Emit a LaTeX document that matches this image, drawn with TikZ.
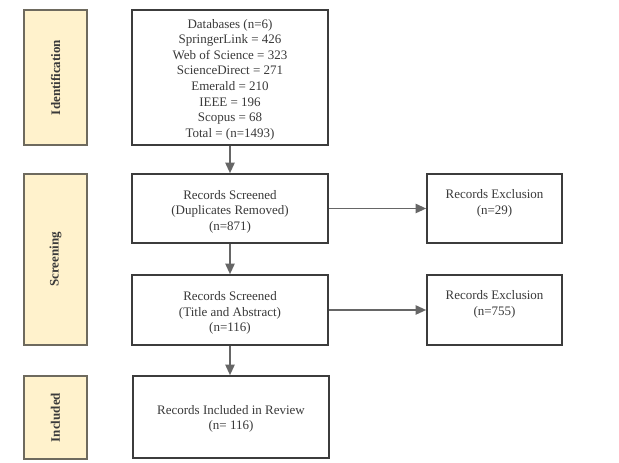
\documentclass[tikz,border=0pt]{standalone}
\usepackage{fontspec}
\setmainfont{Liberation Serif}
\usetikzlibrary{arrows.meta}
\newdimen\px \px=0.75pt
\definecolor{txt}{HTML}{3A3A3A}
\definecolor{bord}{HTML}{3C3C3C}
\definecolor{phase}{HTML}{FFF2CC}
\definecolor{phasebord}{HTML}{6E6A5E}
\definecolor{arr}{HTML}{666666}
\begin{document}
\begin{tikzpicture}[x=0.75pt,y=-0.75pt,
  every node/.style={font=\fontsize{9.75}{11.7}\selectfont, text=txt},
  mainbox/.style={draw=bord, line width=1.2pt, fill=white, inner sep=0pt, minimum width=196\px},
  boxtext/.style={align=center, inner sep=0pt},
  phasebox/.style={draw=phasebord, line width=1.2pt, fill=phase, inner sep=0pt, minimum width=63\px},
  phasetext/.style={font=\bfseries\fontsize{9.75}{11.7}\selectfont, rotate=90, text=txt},
  flow/.style={draw=arr, line width=1.3pt, -{Triangle[length=8pt,width=7pt]}}
]
\useasboundingbox (0,0) rectangle (619,463);

% phase boxes
\node[phasebox, minimum height=135\px] (pid) at (55.5,77.5) {};
\node[phasetext] (tid) at (pid.center) {Identification};
\node[phasebox, minimum height=171\px] (psc) at (55.5,259.5) {};
\node[phasetext] (tsc) at (psc.center) {Screening};
\node[phasebox, minimum height=83\px] (pin) at (55.5,417.5) {};
\node[phasetext] (tin) at (pin.center) {Included};

% main boxes
\node[mainbox, minimum height=135\px] (db) at (230,77.5) {};
\node[boxtext] (dbt) at ([yshift=-2\px]db.center) {Databases (n=6)\\SpringerLink = 426\\Web of Science = 323\\ScienceDirect = 271\\Emerald = 210\\IEEE = 196\\Scopus = 68\\Total = (n=1493)};
\node[mainbox, minimum height=69\px] (s1) at (230,208.5) {};
\node[boxtext] (s1t) at ([yshift=-3\px]s1.center) {Records Screened\\(Duplicates Removed)\\(n=871)};
\node[mainbox, minimum height=70\px] (s2) at (230,310) {};
\node[boxtext] (s2t) at ([yshift=-3\px]s2.center) {Records Screened\\(Title and Abstract)\\(n=116)};
\node[mainbox, minimum height=82\px] (inc) at (231,417) {};
\node[boxtext] (inct) at ([yshift=-2\px]inc.center) {Records Included in Review\\(n= 116)};

% exclusion boxes
\node[mainbox, minimum width=135\px, minimum height=69\px] (e1) at (494.5,208.5) {};
\node[boxtext, anchor=north] (e1t) at ([yshift=-16\px]e1.north) {Records Exclusion\\(n=29)};
\node[mainbox, minimum width=135\px, minimum height=70\px] (e2) at (494.5,310) {};
\node[boxtext, anchor=north] (e2t) at ([yshift=-16\px]e2.north) {Records Exclusion\\(n=755)};

% connectors
\draw[flow] (db.south) -- (s1.north);
\draw[flow] (s1.south) -- (s2.north);
\draw[flow] (s2.south) -- (s2.south |- inc.north);
\draw[flow] (s1.east) -- (e1.west);
\draw[flow] (s2.east) -- (e2.west);
\end{tikzpicture}
\end{document}
